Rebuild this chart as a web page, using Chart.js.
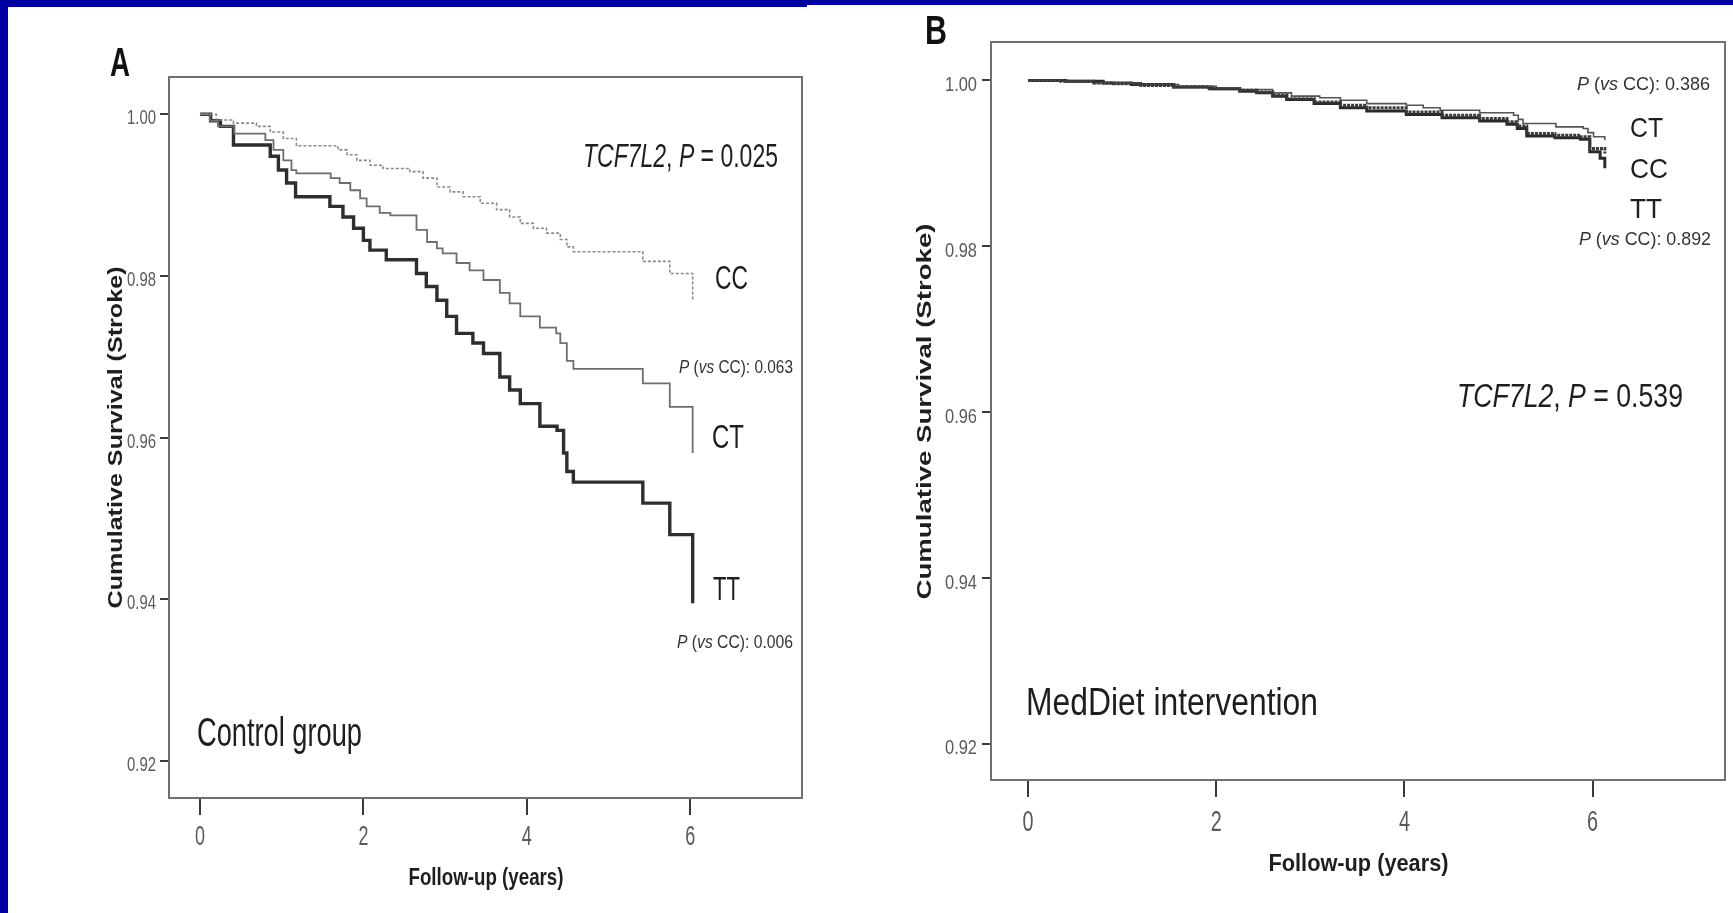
<!DOCTYPE html>
<html>
<head>
<meta charset="utf-8">
<script src="https://cdn.jsdelivr.net/npm/chart.js@4.4.1/dist/chart.umd.min.js"></script>
<style>
  html, body { margin: 0; padding: 0; background: #fff; }
  #page { position: relative; width: 1733px; height: 913px; overflow: hidden; background: #fff; }
  .blue { position: absolute; background: #0000a2; }
  canvas { position: absolute; top: 0; }
</style>
</head>
<body>
<div id="page">
  <canvas id="chartA" width="880" height="913" style="left:0"></canvas>
  <canvas id="chartB" width="853" height="913" style="left:880px"></canvas>
  <div class="blue" style="left:0;top:0;width:8px;height:913px"></div>
  <div class="blue" style="left:0;top:0;width:807px;height:7px"></div>
  <div class="blue" style="left:807px;top:0;width:926px;height:5px"></div>
</div>
<script>
// axis ticks
const yearTicks = [0, 2, 4, 6];
const survivalTicks = [0.92, 0.94, 0.96, 0.98, 1.00];
const survivalTickLabels = ['0.92', '0.94', '0.96', '0.98', '1.00'];

// A - control group (years, cumulative survival)
const controlCCTime = [0, 0.20, 0.41, 0.69, 0.86, 1.02, 1.18, 1.69, 1.80, 1.92, 2.08, 2.24, 2.57, 2.73, 2.90, 3.06, 3.22, 3.43, 3.63, 3.79, 3.92, 4.08, 4.24, 4.41, 4.49, 4.57, 5.42, 5.75, 6.03];
const controlCCSurv = [1.0000, 0.9993, 0.9989, 0.9985, 0.9978, 0.9970, 0.9961, 0.9956, 0.9950, 0.9943, 0.9937, 0.9933, 0.9929, 0.9921, 0.9910, 0.9904, 0.9898, 0.9890, 0.9882, 0.9873, 0.9865, 0.9859, 0.9853, 0.9845, 0.9836, 0.9830, 0.9818, 0.9803, 0.9771];

const controlCTTime = [0, 0.12, 0.22, 0.42, 0.80, 0.90, 1.02, 1.12, 1.18, 1.60, 1.71, 1.84, 1.96, 2.04, 2.20, 2.33, 2.65, 2.78, 2.90, 2.97, 3.14, 3.30, 3.47, 3.67, 3.79, 3.92, 4.16, 4.36, 4.41, 4.49, 4.57, 5.42, 5.75, 6.03];
const controlCTSurv = [1.0000, 0.9992, 0.9985, 0.9976, 0.9968, 0.9956, 0.9943, 0.9931, 0.9927, 0.9921, 0.9915, 0.9906, 0.9896, 0.9886, 0.9878, 0.9875, 0.9857, 0.9842, 0.9834, 0.9828, 0.9816, 0.9807, 0.9795, 0.9779, 0.9766, 0.9750, 0.9736, 0.9729, 0.9717, 0.9695, 0.9685, 0.9667, 0.9638, 0.9581];

const controlTTTime = [0, 0.13, 0.25, 0.41, 0.86, 0.96, 1.06, 1.17, 1.59, 1.75, 1.88, 2.00, 2.08, 2.28, 2.65, 2.77, 2.90, 3.02, 3.14, 3.34, 3.47, 3.67, 3.79, 3.92, 4.16, 4.37, 4.45, 4.49, 4.57, 5.42, 5.75, 6.03];
const controlTTSurv = [1.0000, 0.9992, 0.9985, 0.9962, 0.9948, 0.9931, 0.9915, 0.9898, 0.9886, 0.9873, 0.9859, 0.9844, 0.9832, 0.9820, 0.9803, 0.9787, 0.9770, 0.9750, 0.9729, 0.9717, 0.9704, 0.9675, 0.9659, 0.9642, 0.9614, 0.9609, 0.9581, 0.9558, 0.9545, 0.9519, 0.9480, 0.9395];

// B - MedDiet intervention
const dietCTTime = [0, 0.35, 0.70, 1.20, 1.60, 2.00, 2.25, 2.60, 2.80, 3.10, 3.32, 3.60, 4.02, 4.20, 4.38, 4.80, 5.16, 5.21, 5.26, 5.61, 5.90, 5.95, 6.01, 6.13];
const dietCTSurv = [1.0000, 0.9999, 0.9997, 0.9995, 0.9993, 0.9991, 0.9989, 0.9985, 0.9981, 0.9979, 0.9976, 0.9972, 0.9970, 0.9967, 0.9964, 0.9961, 0.9958, 0.9953, 0.9948, 0.9944, 0.9942, 0.9937, 0.9932, 0.9928];

const dietCCTime = [0, 0.35, 0.70, 0.91, 1.20, 1.55, 1.90, 2.25, 2.43, 2.60, 2.75, 3.04, 3.32, 3.60, 4.02, 4.40, 4.80, 5.09, 5.20, 5.30, 5.60, 5.87, 5.97, 6.13];
const dietCCSurv = [1.0000, 0.9999, 0.9997, 0.9996, 0.9994, 0.9992, 0.9990, 0.9988, 0.9986, 0.9982, 0.9978, 0.9974, 0.9970, 0.9967, 0.9962, 0.9958, 0.9954, 0.9950, 0.9945, 0.9936, 0.9934, 0.9932, 0.9918, 0.9912];

const dietTTTime = [0, 0.40, 0.80, 1.10, 1.55, 1.95, 2.25, 2.43, 2.60, 2.75, 3.04, 3.32, 3.60, 4.02, 4.40, 4.80, 5.09, 5.20, 5.30, 5.60, 5.87, 5.97, 6.08, 6.13];
const dietTTSurv = [1.0000, 0.9999, 0.9997, 0.9995, 0.9992, 0.9990, 0.9987, 0.9985, 0.9981, 0.9977, 0.9972, 0.9967, 0.9963, 0.9959, 0.9955, 0.9951, 0.9947, 0.9942, 0.9933, 0.9931, 0.9929, 0.9914, 0.9906, 0.9894];

const FONT = '"Liberation Sans", Arial, sans-serif';

function fontFor(style, size) {
    return (style === 'i' ? 'italic ' : '') + (style === 'b' ? 'bold ' : '') + size + 'px ' + FONT;
}

// draws text squeezed/stretched to a given width (the figure uses a narrow face)
function fitText(ctx, parts, o) {
    let total = 0;
    const widths = parts.map(([t, st]) => {
        ctx.font = fontFor(st, o.size);
        const w = ctx.measureText(t).width;
        total += w;
        return w;
    });
    const sx = o.width / total;
    ctx.save();
    ctx.fillStyle = o.color || '#1e1e1e';
    ctx.textAlign = 'left';
    ctx.textBaseline = 'alphabetic';
    ctx.translate(o.x, o.y);
    if (o.rotate) ctx.rotate(o.rotate);
    ctx.translate(o.align === 'center' ? -o.width / 2 : (o.align === 'right' ? -o.width : 0), 0);
    ctx.scale(sx, 1);
    let cx = 0;
    parts.forEach(([t, st], i) => {
        ctx.font = fontFor(st, o.size);
        ctx.fillText(t, cx, 0);
        cx += widths[i];
    });
    ctx.restore();
}

const pvs = v => [['P', 'i'], [' (', ''], ['vs', 'i'], [' CC): ' + v, '']];
const toPoints = (ts, ss) => ts.map((t, i) => ({ x: t, y: ss[i] }));

function decorPlugin(p) {
    return {
        id: 'decor',
        afterDatasetsDraw(chart) {
            const { ctx, chartArea: a } = chart;
            ctx.save();
            ctx.strokeStyle = '#707070';
            ctx.lineWidth = 2;
            ctx.strokeRect(a.left, a.top, a.right - a.left, a.bottom - a.top);
            ctx.restore();
        },
        afterDraw(chart) {
            const { ctx, scales } = chart;
            const ox = p.offsetX;
            scales.y.ticks.forEach(tk => {
                const y = scales.y.getPixelForValue(tk.value);
                const i = survivalTicks.indexOf(tk.value);
                fitText(ctx, [[survivalTickLabels[i], '']], {
                    x: p.yLabelRight - ox, y: y + p.yLabelDrop, width: p.yLabelWidth,
                    size: p.yLabelSize, align: 'right', color: '#5a5a5a'
                });
            });
            scales.x.ticks.forEach(tk => {
                const x = scales.x.getPixelForValue(tk.value);
                fitText(ctx, [[String(tk.value), '']], {
                    x: x, y: p.xLabelBase, width: p.xLabelWidth,
                    size: p.xLabelSize, align: 'center', color: '#5a5a5a'
                });
            });
            p.texts.forEach(t => fitText(ctx, t.parts, Object.assign({}, t, { x: t.x - ox })));
        }
    };
}

function makeChart(id, p, sets) {
    return new Chart(document.getElementById(id), {
        type: 'line',
        data: {
            datasets: sets.map(s => ({
                data: toPoints(s.time, s.surv),
                borderColor: s.color,
                borderWidth: s.width,
                borderDash: s.dash || [],
                stepped: 'before',
                pointRadius: 0,
                fill: false
            }))
        },
        options: {
            responsive: false,
            animation: false,
            devicePixelRatio: 1,
            layout: { padding: p.padding },
            plugins: { legend: { display: false }, tooltip: { enabled: false } },
            scales: {
                x: {
                    type: 'linear', min: p.xMin, max: p.xMax,
                    afterBuildTicks: s => { s.ticks = yearTicks.map(v => ({ value: v })); },
                    afterFit: s => { s.height = p.xAxisHeight; },
                    border: { display: false },
                    grid: { drawOnChartArea: false, drawTicks: true, tickLength: p.xTickLen, color: '#3a3a3a', lineWidth: 2 },
                    ticks: { color: 'transparent', font: { size: 10 } }
                },
                y: {
                    type: 'linear', min: p.yMin, max: p.yMax,
                    afterBuildTicks: s => { s.ticks = survivalTicks.map(v => ({ value: v })); },
                    afterFit: s => { s.width = p.yAxisWidth; },
                    border: { display: false },
                    grid: { drawOnChartArea: false, drawTicks: true, tickLength: 9, color: '#3a3a3a', lineWidth: 2 },
                    ticks: { color: 'transparent', font: { size: 10 } }
                }
            }
        },
        plugins: [decorPlugin(p)]
    });
}

const panelA = {
    offsetX: 0,
    padding: { top: 77, right: 78, bottom: 0, left: 0 },
    yAxisWidth: 169, xAxisHeight: 115,
    xMin: -0.379, xMax: 7.368, yMin: 0.91542, yMax: 1.00461,
    xTickLen: 17,
    yLabelRight: 156, yLabelDrop: 10, yLabelWidth: 29, yLabelSize: 20,
    xLabelBase: 845, xLabelWidth: 10, xLabelSize: 28,
    texts: [
        { parts: [['A', 'b']], x: 110, y: 76, width: 20, size: 40, color: '#111' },
        { parts: [['TCF7L2', 'i'], [', ', ''], ['P', 'i'], [' = 0.025', '']], x: 583, y: 167, width: 195, size: 33 },
        { parts: [['CC', '']], x: 715, y: 289, width: 33, size: 33 },
        { parts: pvs('0.063'), x: 679, y: 372.5, width: 114, size: 19, color: '#333' },
        { parts: [['CT', '']], x: 712, y: 448, width: 32, size: 33 },
        { parts: [['TT', '']], x: 713, y: 600, width: 27, size: 33 },
        { parts: pvs('0.006'), x: 677, y: 648, width: 116, size: 19, color: '#333' },
        { parts: [['Control group', '']], x: 197, y: 746, width: 165, size: 40 },
        { parts: [['Follow-up (years)', 'b']], x: 486, y: 885, width: 155, size: 24, align: 'center' },
        { parts: [['Cumulative Survival (Stroke)', 'b']], x: 122, y: 437.5, width: 342, size: 20, align: 'center', rotate: -Math.PI / 2 }
    ]
};

const panelB = {
    offsetX: 880,
    padding: { top: 42, right: 8, bottom: 0, left: 0 },
    yAxisWidth: 111, xAxisHeight: 133,
    xMin: -0.393, xMax: 7.407, yMin: 0.91565, yMax: 1.00463,
    xTickLen: 17,
    yLabelRight: 977, yLabelDrop: 10.5, yLabelWidth: 32, yLabelSize: 21,
    xLabelBase: 831, xLabelWidth: 11, xLabelSize: 29,
    texts: [
        { parts: [['B', 'b']], x: 925, y: 44, width: 22, size: 40, color: '#111' },
        { parts: pvs('0.386'), x: 1577, y: 90, width: 133, size: 19, color: '#333' },
        { parts: [['CT', '']], x: 1630, y: 137, width: 33, size: 28 },
        { parts: [['CC', '']], x: 1630, y: 178, width: 38, size: 28 },
        { parts: [['TT', '']], x: 1630, y: 218, width: 32, size: 28 },
        { parts: pvs('0.892'), x: 1579, y: 245, width: 132, size: 19, color: '#333' },
        { parts: [['TCF7L2', 'i'], [', ', ''], ['P', 'i'], [' = 0.539', '']], x: 1457, y: 407, width: 226, size: 34 },
        { parts: [['MedDiet intervention', '']], x: 1026, y: 715, width: 292, size: 39 },
        { parts: [['Follow-up (years)', 'b']], x: 1358.5, y: 871, width: 180, size: 24, align: 'center' },
        { parts: [['Cumulative Survival (Stroke)', 'b']], x: 931, y: 411.5, width: 376, size: 21, align: 'center', rotate: -Math.PI / 2 }
    ]
};

makeChart('chartA', panelA, [
    { time: controlCCTime, surv: controlCCSurv, color: '#8a8a8a', width: 1.6, dash: [3, 2] },
    { time: controlCTTime, surv: controlCTSurv, color: '#6e6e6e', width: 1.8 },
    { time: controlTTTime, surv: controlTTSurv, color: '#2e2e2e', width: 3.4 }
]);

makeChart('chartB', panelB, [
    { time: dietCCTime, surv: dietCCSurv, color: '#3a3a3a', width: 3, dash: [3, 1] },
    { time: dietCTTime, surv: dietCTSurv, color: '#555555', width: 1.6 },
    { time: dietTTTime, surv: dietTTSurv, color: '#2a2a2a', width: 3 }
]);
</script>
</body>
</html>
